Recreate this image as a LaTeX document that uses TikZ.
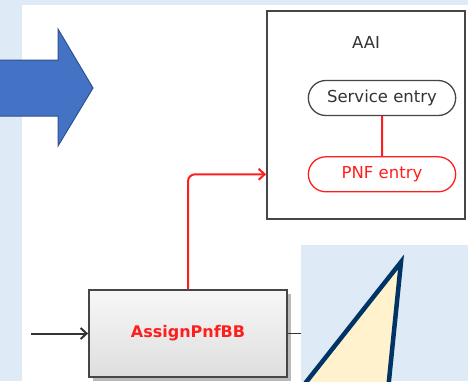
\documentclass[tikz,border=0pt]{standalone}
\usepackage{fontspec}
\setmainfont{DejaVu Sans}
\usetikzlibrary{positioning, arrows.meta, shadows, shapes.misc}

\definecolor{bgblue}{RGB}{222,234,246}
\definecolor{arrowblue}{RGB}{68,114,196}
\definecolor{arrowedge}{RGB}{47,82,143}
\definecolor{navy}{RGB}{0,51,102}
\definecolor{paleyellow}{RGB}{255,242,204}
\definecolor{boxgray}{RGB}{70,70,70}
\definecolor{entryred}{RGB}{255,30,30}

\begin{document}
\begin{tikzpicture}[x=1pt, y=-1pt,
    entry/.style={draw, rounded rectangle, line width=1.3pt, minimum width=154pt, minimum height=35pt, font=\fontsize{16.5}{19}\selectfont},
    redline/.style={draw=entryred, line width=2pt},
    >={Straight Barb[length=6pt, width=11pt]}]
    \useasboundingbox (0,0) rectangle (468,381);
    \clip (0,0) rectangle (468,381);

    % backdrop
    \fill[bgblue] (0,0) rectangle (468,381);
    \fill[white] (22,5) rectangle (468,381);
    \fill[bgblue] (301,245) rectangle (468,381);

    % big blue arrow and triangle
    \draw[fill=arrowblue, draw=arrowedge, line width=1pt]
        (-5,60) -- (58,60) -- (58,29) -- (93,88) -- (58,146) -- (58,116) -- (-5,116) -- cycle;
    \draw[fill=paleyellow, draw=navy, line width=4.5pt]
        (401,262) -- (292,400) -- (387,400) -- cycle;

    % AAI
    \node[draw=boxgray, line width=1.8pt, minimum width=198pt, minimum height=208pt] (aai) at (366,115) {};
    \node[font=\fontsize{16.5}{19}\selectfont, text=black!80] (aailabel) at (366,42) {AAI};
    \node[entry, draw=boxgray, text=black!80] (service) at (382,98) {Service entry};
    \node[entry, draw=entryred, text=entryred, below=40pt of service] (pnf) {PNF entry};

    % building block
    \node[draw=boxgray, line width=1.8pt, top color=gray!6, bottom color=gray!26,
          drop shadow={shadow xshift=3.5pt, shadow yshift=-3.5pt, fill=gray!55, opacity=1},
          minimum width=198pt, minimum height=87pt, text=entryred,
          font=\bfseries\fontsize{16}{19}\selectfont] (assign) at (188,333.5) {AssignPnfBB};

    \coordinate (in) at (31,333.5);
    \coordinate (out) at (301,333.5);

    \draw[redline] (service) -- (pnf);
    \draw[redline, ->, rounded corners=7pt] (assign.north) |- (aai.west |- pnf);
    \draw[->, draw=black!80, line width=2pt] (in) -- (assign);
    \draw[draw=black!80, line width=1.8pt] (assign) -- (out);
\end{tikzpicture}
\end{document}
